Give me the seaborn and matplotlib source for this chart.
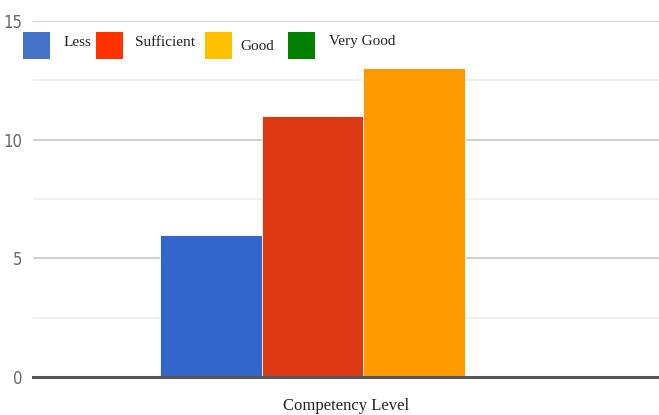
import matplotlib
matplotlib.use("Agg")
import matplotlib.pyplot as plt
from matplotlib.patches import Rectangle
from matplotlib.ticker import MultipleLocator
import pandas as pd
import seaborn as sns

# Data
categories = ["Competency Level"]
levels = ["Less", "Sufficient", "Good", "Very Good"]
counts = [6, 11, 13, 0]
yticks = [0, 5, 10, 15]

bar_colors = ["#3366CC", "#DC3912", "#FF9900", "#109618"]
legend_colors = ["#4472C4", "#FF3300", "#FFC000", "#008000"]

df = pd.DataFrame({
    "category": categories * len(levels),
    "level": levels,
    "count": counts,
})

sns.set_theme(style="white")
serif = "Liberation Serif"

W, H = 659, 415
fig = plt.figure(figsize=(W / 100, H / 100), dpi=100)
ax = fig.add_axes([33 / W, 38 / H, (W - 33) / W, (377 - 21) / H])

sns.barplot(data=df, x="category", y="count", hue="level", hue_order=levels,
            palette=bar_colors, saturation=1, ax=ax, legend=False, width=0.8,
            edgecolor="white", linewidth=0.6)

ax.set_xlim(-0.65, 0.5817)
ax.set_ylim(0, 15)
ax.set_yticks(yticks)
ax.yaxis.set_minor_locator(MultipleLocator(2.5))
ax.set_axisbelow(True)
ax.grid(axis="y", which="major", color="#cccccc", linewidth=1.3)
ax.grid(axis="y", which="minor", color="#ececec", linewidth=1.1)
ax.grid(axis="x", visible=False)
for side in ["top", "right", "left"]:
    ax.spines[side].set_visible(False)
ax.spines["bottom"].set_color("#555555")
ax.spines["bottom"].set_linewidth(2.2)

ax.tick_params(axis="y", which="both", length=0, pad=7.5,
               labelsize=12, labelcolor="#666666")
for lab in ax.get_yticklabels():
    lab.set_fontfamily("DejaVu Sans")
    lab.set_fontstretch("condensed")
ax.set_xticks([])
ax.set_ylabel("")
ax.set_xlabel("Competency Level", fontsize=12, family=serif, color="#222222",
              labelpad=15)

# Legend row across the top of the plot
sq_left = [23, 96, 205, 288]
sq_size = 27
sq_top = 32
txt_left = [64, 135, 240, 329]
txt_y = [43, 42, 46, 42]
for lvl, col, sx, tx, ty in zip(levels, legend_colors, sq_left, txt_left, txt_y):
    fig.add_artist(Rectangle((sx / W, 1 - (sq_top + sq_size) / H), sq_size / W,
                             sq_size / H, transform=fig.transFigure,
                             facecolor=col, edgecolor="none"))
    fig.text(tx / W, 1 - ty / H, lvl, fontsize=11, family=serif,
             color="#222222", va="center", ha="left")

fig.savefig("out.png", dpi=100)
